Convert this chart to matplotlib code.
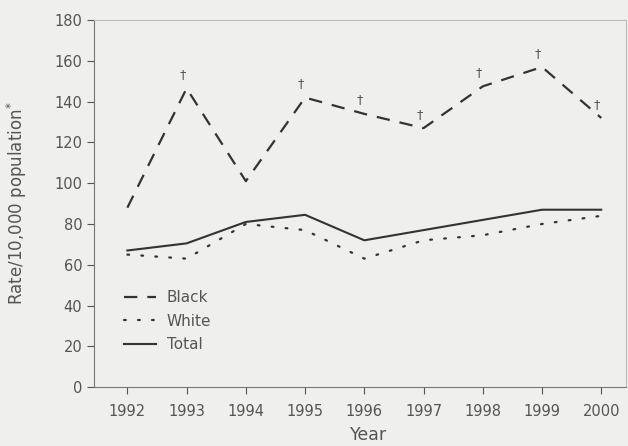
import matplotlib
matplotlib.use('Agg')
import matplotlib.pyplot as plt

years = [1992, 1993, 1994, 1995, 1996, 1997, 1998, 1999, 2000]
black = [88, 146.5, 101, 142, 134, 127, 147.5, 157, 132]
white = [65, 63, 80, 77, 63, 72, 74.5, 80, 84]
total = [67, 70.5, 81, 84.5, 72, 77, 82, 87, 87]
dagger_years = [1993, 1995, 1996, 1997, 1998, 1999, 2000]

plt.rcParams['font.family'] = ['DejaVu Sans']
bg = '#efefed'
txt = '#555555'
ink = '#333333'

fig = plt.figure(figsize=(6.28, 4.46), dpi=100, facecolor=bg)
ax = fig.add_axes([0.150, 0.132, 0.847, 0.823], facecolor=bg)

ax.plot(years, black, color=ink, lw=1.6, dashes=(6, 4.5), label='Black')
ax.plot(years, white, color=ink, lw=1.6, dashes=(0.8, 5.5),
        dash_capstyle='round', label='White')
ax.plot(years, total, color=ink, lw=1.5, label='Total')

# significance markers above the Black series
for yr in dagger_years:
    v = black[years.index(yr)]
    ax.annotate('\u2020', (yr, v), xytext=(-3, 10), textcoords='offset points',
                ha='center', va='center', fontsize=9, color=txt)

ax.set_xlim(1991.44, 2000.42)
ax.set_ylim(0, 180)
ax.set_xticks(years)
ax.set_yticks(range(0, 181, 20))
ax.tick_params(colors=txt, labelsize=10.5, length=5, width=0.8, direction='out')
ax.tick_params(axis='x', pad=7)
for s in ['left', 'bottom']:
    ax.spines[s].set_color('#777777')
for s in ['top', 'right']:
    ax.spines[s].set_color('#bbbbbb')

ax.set_xlabel('Year', fontsize=12.5, color=txt, va='top')
ax.xaxis.set_label_coords(0.515, -0.105)
ax.set_ylabel('Rate/10,000 population$^{*}$', fontsize=12, color=txt)
ax.yaxis.set_label_coords(-0.122, 0.5)

leg = ax.legend(loc='lower left', bbox_to_anchor=(0.03, 0.058), frameon=False,
                fontsize=11, handlelength=2.1, labelspacing=0.55,
                handletextpad=0.7)
for t in leg.get_texts():
    t.set_color(txt)

fig.savefig('out.png', dpi=100, facecolor=bg)
